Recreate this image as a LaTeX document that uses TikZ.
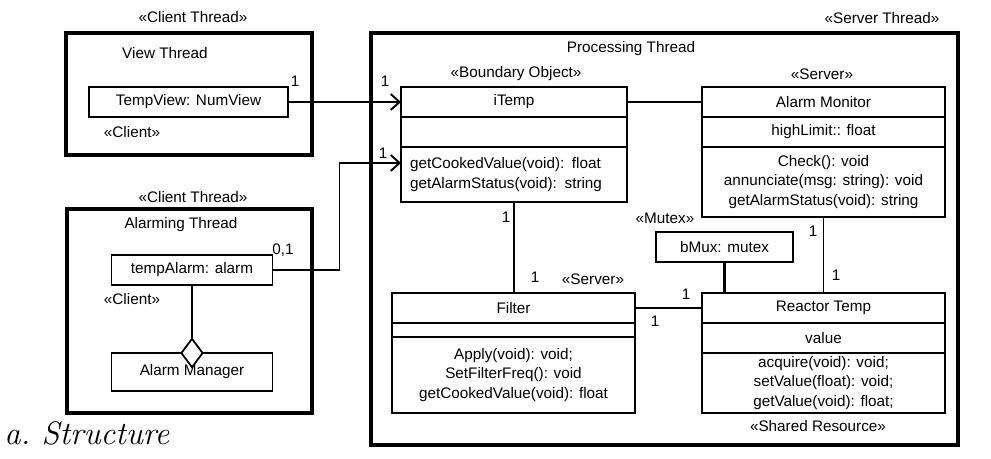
\documentclass[tikz,border=0pt]{standalone}
\usepackage{fontspec}
\newfontfamily\umlsans{Liberation Sans}
\usetikzlibrary{shapes.geometric,arrows.meta,positioning,calc}
\newcommand{\umlfont}{\umlsans\fontsize{8.7}{11.2}\selectfont}
\tikzset{
  thread/.style={rectangle, draw, line width=2pt, inner sep=0pt, outer sep=0pt},
  cls/.style={rectangle, draw, line width=1pt, inner sep=0pt, outer sep=0pt,
              minimum width=4.86cm, minimum height=0.6cm,
              align=center, font=\umlfont},
  obj/.style={cls, minimum width=3.22cm},
  agg/.style={diamond, draw, line width=1pt, fill=white, inner sep=0pt,
              minimum width=0.44cm, minimum height=0.58cm},
  lbl/.style={inner sep=0pt, font=\umlfont},
  assoc/.style={line width=1.1pt},
  navarrow/.style={assoc, -{Straight Barb[length=5pt,width=9pt]}}
}
\begin{document}
\begin{tikzpicture}[x=0.02cm, y=-0.02cm]
\useasboundingbox (0,0) rectangle (991,459);

% threads
\node[thread, minimum width=4.92cm, minimum height=2.44cm] (viewthr) at (189,94) {};
\node[thread, minimum width=4.9cm, minimum height=4.08cm] (alarmthr) at (189.5,311) {};
\node[thread, minimum width=11.74cm, minimum height=8.24cm] (procthr) at (664.5,239) {};
\node[lbl] at (193,17) {«Client Thread»};
\node[lbl] at (193,197) {«Client Thread»};
\node[lbl] at (882,18) {«Server Thread»};
\node[lbl] at (165,53) {View Thread};
\node[lbl] at (181,225) {Alarming Thread};
\node[lbl] at (631,49) {Processing Thread};

% client objects
\node[obj, minimum width=3.98cm] (tempview) at (188.5,102) {TempView: NumView};
\node[obj] (talarm) at (192,270) {tempAlarm: alarm};
\node[obj, minimum height=0.76cm] (amgr) at (192,372) {Alarm Manager};
\node[agg] (aggr) at (amgr.north) {};
\node[lbl] at (132,132) {«Client»};
\node[lbl] at (132,299) {«Client»};

% iTemp
\node[cls, minimum width=4.52cm] (itemp) at (514,102) {iTemp};
\node[cls, minimum width=4.52cm, below=0pt of itemp] (itempattr) {};
\node[cls, minimum width=4.52cm, minimum height=1.1cm, inner xsep=0.18cm,
      text width=4.16cm, align=left, below=0pt of itempattr] (itempops)
      {getCookedValue(void): float\\getAlarmStatus(void): string};
\node[lbl] at (516,74) {«Boundary Object»};

% Alarm Monitor
\node[cls] (almon) at (823.5,102) {Alarm Monitor};
\node[cls, below=0pt of almon] (almonattr) {highLimit:: float};
\node[cls, minimum height=1.4cm, below=0pt of almonattr] (almonops)
      {Check(): void\\annunciate(msg: string): void\\getAlarmStatus(void): string};
\node[lbl] at (822,74) {«Server»};

% Filter
\node[cls] (filter) at (513.5,308) {Filter};
\node[cls, minimum height=0.28cm, below=0pt of filter] (filterattr) {};
\node[cls, minimum height=1.52cm, below=0pt of filterattr] (filterops)
      {Apply(void): void;\\SetFilterFreq(): void\\getCookedValue(void): float};
\node[lbl] at (593,279) {«Server»};

% Reactor Temp
\node[cls] (reactor) at (823.5,308) {Reactor Temp};
\node[cls, below=0pt of reactor] (reactorattr) {value};
\node[cls, minimum height=1.2cm, below=0pt of reactorattr] (reactorops)
      {acquire(void): void;\\setValue(float): void;\\getValue(void): float;};
\node[lbl] at (818,426) {«Shared Resource»};

% mutex
\node[cls, minimum width=2.74cm] (bmux) at (724.5,247) {bMux: mutex};
\node[lbl] at (665,218) {«Mutex»};

% connectors
\draw[navarrow] (tempview) -- (itemp);
\draw[navarrow] (talarm.east) -- ++(67,0) |- ($(itempops.north west)+(0,16)$);
\draw[assoc] (itemp) -- (almon);
\draw[assoc] (itempops.south) -- (itempops.south |- filter.north);
\draw[assoc] (filter) -- (reactor);
\draw[assoc] (almonops) -- (reactor);
\draw[assoc, line width=1.6pt] (bmux) -- (bmux |- reactor.north);
\draw[assoc] (talarm) -- (aggr);

% multiplicities
\node[lbl] at (295,81) {1};
\node[lbl] at (385,81) {1};
\node[lbl] at (383,153) {1};
\node[lbl] at (283,250) {0,1};
\node[lbl] at (506,217) {1};
\node[lbl] at (535,277) {1};
\node[lbl] at (813,231) {1};
\node[lbl] at (836,275) {1};
\node[lbl] at (686,294) {1};
\node[lbl] at (655,321) {1};

\node[anchor=west, inner sep=0pt, font=\itshape\fontsize{18.5}{21}\selectfont]
  at (4,433) {a.\ Structure};
\end{tikzpicture}
\end{document}
